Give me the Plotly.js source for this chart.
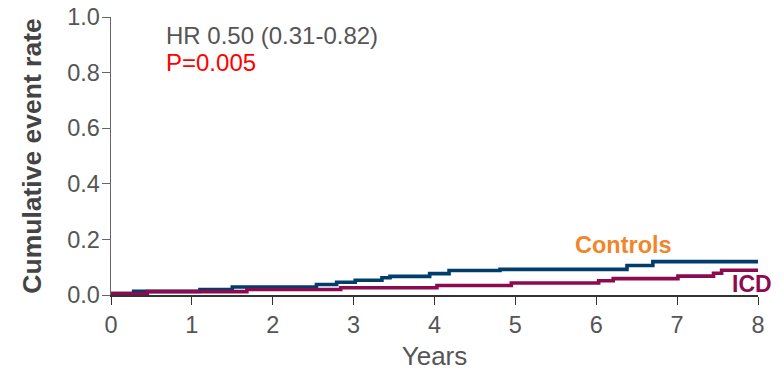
<!DOCTYPE html>
<html>
<head>
<meta charset="utf-8">
<script src="https://cdn.plot.ly/plotly-3.0.1.min.js"></script>
<style>html,body{margin:0;padding:0;background:#fff;}#chart{width:784px;height:371px;}</style>
</head>
<body>
<div id="chart"></div>
<script>
// Kaplan-Meier style cumulative event rate
const controlsYears = [0, 0.28, 1.1, 1.5, 2.54, 2.79, 3.02, 3.35, 3.45, 3.94, 4.18, 4.81, 6.38, 6.7, 8];
const controlsRate  = [0.005, 0.013, 0.02, 0.029, 0.038, 0.046, 0.053, 0.062, 0.067, 0.077, 0.088, 0.092, 0.106, 0.12, 0.12];
const icdYears = [0, 0.45, 1.68, 2.84, 4.03, 4.95, 6.03, 6.21, 7.01, 7.45, 7.55, 8];
const icdRate  = [0.005, 0.012, 0.02, 0.026, 0.034, 0.043, 0.051, 0.059, 0.068, 0.078, 0.089, 0.089];
const xTicks = [0, 1, 2, 3, 4, 5, 6, 7, 8];
const yTicks = [0, 0.2, 0.4, 0.6, 0.8, 1.0];
const hrText = "HR 0.50 (0.31-0.82)";
const pText = "P=0.005";

const FONT = "'Liberation Sans', Arial, sans-serif";
const traces = [
  {x: controlsYears, y: controlsRate, mode: "lines", line: {shape: "hv", color: "#003d6b", width: 3.6}, name: "Controls", hoverinfo: "skip"},
  {x: icdYears, y: icdRate, mode: "lines", line: {shape: "hv", color: "#8c0a50", width: 3.6}, name: "ICD", hoverinfo: "skip"}
];
const layout = {
  width: 784, height: 371,
  margin: {l: 111, r: 26, t: 17, b: 76},
  paper_bgcolor: "#fff", plot_bgcolor: "#fff",
  showlegend: false,
  font: {family: FONT, color: "#555"},
  xaxis: {
    range: [0, 8], tickvals: xTicks, ticktext: xTicks.map(String),
    showgrid: false, zeroline: false, showline: true, linecolor: "#333", linewidth: 1.5,
    ticks: "outside", ticklen: 8, tickcolor: "#333", tickwidth: 1,
    tickfont: {size: 23.5, color: "#555", family: FONT},
    title: {text: "Years", font: {size: 26, color: "#555", family: FONT}, standoff: 13}
  },
  yaxis: {
    range: [0, 1], tickvals: yTicks, ticktext: yTicks.map(v => v.toFixed(1)),
    showgrid: false, zeroline: false, showline: true, linecolor: "#666", linewidth: 1.5,
    ticks: "outside", ticklen: 8, tickcolor: "#666", tickwidth: 1, ticklabelstandoff: -3,
    tickfont: {size: 23.5, color: "#555", family: FONT},
    title: {text: "<b>Cumulative event rate</b>", font: {size: 26.5, color: "#444", family: FONT}, standoff: 18}
  },
  annotations: [
    {xref: "x", yref: "y", x: 0.66, y: 0.935, text: hrText, showarrow: false, xanchor: "left", yanchor: "middle", font: {size: 24, color: "#555", family: FONT}},
    {xref: "x", yref: "y", x: 0.66, y: 0.835, text: pText, showarrow: false, xanchor: "left", yanchor: "middle", font: {size: 24, color: "#ff0000", family: FONT}},
    {xref: "x", yref: "y", x: 6.34, y: 0.18, text: "<b>Controls</b>", showarrow: false, xanchor: "center", yanchor: "middle", font: {size: 23.5, color: "#f0862a", family: FONT}},
    {xref: "x", yref: "y", x: 7.93, y: 0.038, text: "<b>ICD</b>", showarrow: false, xanchor: "center", yanchor: "middle", font: {size: 23, color: "#8c0a50", family: FONT}}
  ]
};
Plotly.newPlot("chart", traces, layout, {staticPlot: true, displayModeBar: false});
</script>
</body>
</html>
